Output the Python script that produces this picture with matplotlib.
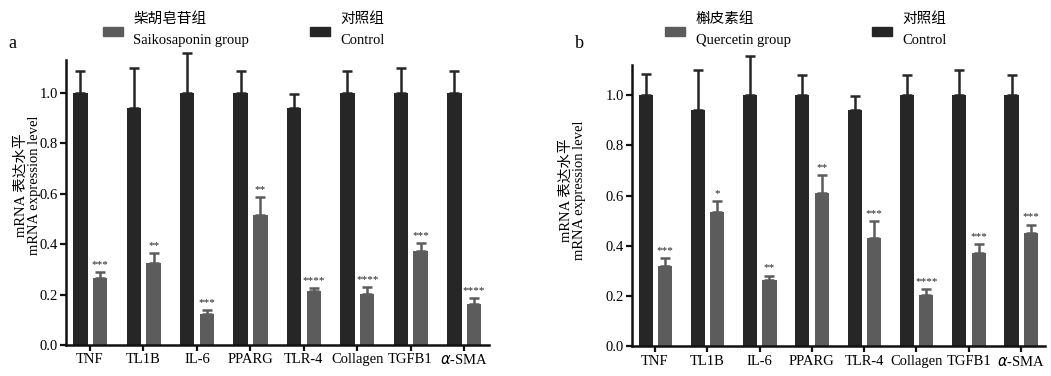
import matplotlib
matplotlib.use("Agg")
import matplotlib.pyplot as plt
import numpy as np

plt.rcParams['font.family'] = ['Liberation Serif', 'Noto Sans CJK SC']

genes = ['TNF', 'TL1B', 'IL-6', 'PPARG', 'TLR-4', 'Collagen', 'TGFB1', r'$\alpha$-SMA']

# Panel a
a_ctrl = [1.0, 0.94, 1.0, 1.0, 0.94, 1.0, 1.0, 1.0]
a_ctrl_err = [0.085, 0.16, 0.157, 0.085, 0.057, 0.085, 0.10, 0.085]
a_trt = [0.264, 0.326, 0.124, 0.516, 0.214, 0.202, 0.372, 0.162]
a_trt_err = [0.024, 0.040, 0.016, 0.072, 0.012, 0.027, 0.033, 0.023]
a_stars = ['***', '**', '***', '**', '****', '****', '***', '****']

# Panel b
b_ctrl = [1.0, 0.94, 1.0, 1.0, 0.94, 1.0, 1.0, 1.0]
b_ctrl_err = [0.085, 0.16, 0.157, 0.08, 0.057, 0.08, 0.10, 0.08]
b_trt = [0.319, 0.535, 0.263, 0.611, 0.430, 0.206, 0.373, 0.451]
b_trt_err = [0.034, 0.045, 0.019, 0.070, 0.069, 0.024, 0.033, 0.034]
b_stars = ['***', '*', '**', '**', '***', '****', '***', '***']

ylabel = 'mRNA 表达水平\nmRNA expression level'
ctrl_color = '#262626'
trt_color = '#5c5c5c'

fig = plt.figure(figsize=(10.51, 3.76), dpi=100)

def panel(rect, ylim_top, xlim, ctrl, ctrl_err, trt, trt_err, stars,
          letter, letter_xy, leg_cn, leg_en, leg1_xy, leg2_xy, label_xy):
    ax = fig.add_axes(rect)
    x = np.arange(len(genes))
    w = 0.27
    ax.bar(x - 0.18, ctrl, w, color=ctrl_color, zorder=2)
    eb1 = ax.errorbar(x - 0.18, ctrl, yerr=[np.zeros(len(ctrl)), ctrl_err], fmt='none',
                      ecolor=ctrl_color, elinewidth=1.8, capsize=3.5, capthick=1.8, zorder=1)
    ax.bar(x + 0.19, trt, w, color=trt_color, zorder=2)
    eb2 = ax.errorbar(x + 0.19, trt, yerr=[np.zeros(len(trt)), trt_err], fmt='none',
                      ecolor=trt_color, elinewidth=1.8, capsize=3.5, capthick=1.8, zorder=1)
    for eb in (eb1, eb2):
        for child in eb.get_children():
            child.set_clip_on(False)
    for xi, v, e, s in zip(x, trt, trt_err, stars):
        ax.text(xi + 0.19, v + e + 0.012, s, ha='center', va='bottom', fontsize=8,
                color='#222222')
    ax.set_xlim(*xlim)
    ax.set_ylim(0, ylim_top)
    ax.set_yticks([0.0, 0.2, 0.4, 0.6, 0.8, 1.0])
    ax.set_yticklabels(['0.0', '0.2', '0.4', '0.6', '0.8', '1.0'], fontsize=10.5)
    ax.set_xticks(x)
    ax.set_xticklabels(genes, fontsize=10.5)
    ax.spines['top'].set_visible(False)
    ax.spines['right'].set_visible(False)
    for sp in ['left', 'bottom']:
        ax.spines[sp].set_linewidth(1.8)
        ax.spines[sp].set_color('#111111')
    ax.tick_params(axis='both', width=1.6, length=4, color='#111111', pad=2)
    ax.set_ylabel(ylabel, fontsize=10.5, linespacing=1.0)
    ax.yaxis.set_label_coords(*label_xy)
    fig.text(letter_xy[0], letter_xy[1], letter, fontsize=13, ha='left', va='center')
    for (lx, ly), col, cn, en in [(leg1_xy, trt_color, leg_cn, leg_en),
                                  (leg2_xy, ctrl_color, '对照组', 'Control')]:
        fig.patches.append(plt.Rectangle((lx, ly - 0.012), 0.019, 0.026,
                                         transform=fig.transFigure, color=col))
        fig.text(lx + 0.029, ly + 0.034, cn, fontsize=10.5, ha='left', va='center')
        fig.text(lx + 0.029, ly - 0.024, en, fontsize=10.5, ha='left', va='center')
    return ax

panel([0.0628, 0.0824, 0.4025, 0.758], 1.13, (-0.45, 7.47),
      a_ctrl, a_ctrl_err, a_trt, a_trt_err, a_stars,
      'a', (0.008, 0.885), '柴胡皂苷组', 'Saikosaponin group',
      (0.098, 0.915), (0.295, 0.915), (-0.06, 0.56))
panel([0.6013, 0.0785, 0.393, 0.749], 1.12, (-0.44, 7.46),
      b_ctrl, b_ctrl_err, b_trt, b_trt_err, b_stars,
      'b', (0.547, 0.885), '槲皮素组', 'Quercetin group',
      (0.633, 0.915), (0.830, 0.915), (-0.112, 0.556))

fig.savefig('out.png', dpi=100, facecolor='white')
